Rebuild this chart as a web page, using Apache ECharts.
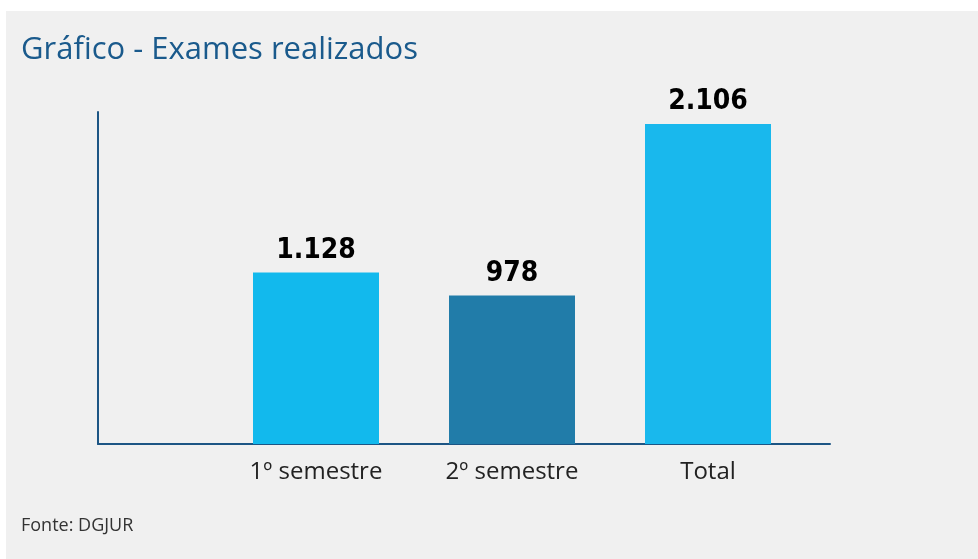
<!DOCTYPE html>
<html>
<head>
<meta charset="utf-8">
<script src="https://cdn.jsdelivr.net/npm/echarts@6/dist/echarts.min.js"></script>
<style>
  html, body { margin: 0; padding: 0; background: #ffffff; }
  #chart { position: absolute; left: 6px; top: 11px; width: 972px; height: 548px; }
</style>
</head>
<body>
<div id="chart"></div>
<script>
const categories = ['1º semestre', '2º semestre', 'Total']
const values = [1128, 978, 2106]
const barColors = ['#12b9ed', '#217ca9', '#19b8ed']

const chart = echarts.init(document.getElementById('chart'))
const axisColor = '#1c5584'

// numbers in pt-PT style: 2.106
const fmt = (v) => String(v).replace(/\B(?=(\d{3})+(?!\d))/g, '.')

const options = {
  backgroundColor: '#f0f0f0',
  title: [{
    text: 'Gráfico - Exames realizados',
    left: 10,
    top: 19,
    textStyle: {
      color: '#1a5a8c',
      fontSize: 31,
      fontWeight: 'normal',
      fontFamily: 'Open Sans'
    }
  }, {
    text: 'Fonte: DGJUR',
    left: 10,
    top: 501,
    textStyle: {
      color: '#333333',
      fontSize: 18,
      fontWeight: 'normal',
      fontFamily: 'Open Sans'
    }
  }],
  grid: [{
    // bars
    left: 212,
    right: 172,
    top: 101,
    bottom: 115
  }, {
    // frame lines
    left: 92,
    right: 148,
    top: 101,
    bottom: 115
  }],
  xAxis: [{
    type: 'category',
    gridIndex: 0,
    data: categories,
    axisLine: { show: false },
    axisTick: { show: false },
    axisLabel: {
      color: '#222222',
      fontSize: 24,
      fontFamily: 'Open Sans',
      margin: 16
    }
  }, {
    type: 'value',
    gridIndex: 1,
    min: 0,
    max: 1,
    axisLine: { show: true, lineStyle: { color: axisColor, width: 2 } },
    axisTick: { show: false },
    axisLabel: { show: false },
    splitLine: { show: false }
  }],
  yAxis: [{
    type: 'value',
    gridIndex: 0,
    min: 0,
    max: 2185,
    show: false
  }, {
    type: 'value',
    gridIndex: 1,
    min: 0,
    max: 1,
    axisLine: { show: true, lineStyle: { color: axisColor, width: 2 } },
    axisTick: { show: false },
    axisLabel: { show: false },
    splitLine: { show: false }
  }],
  series: [{
    name: 'Exames',
    type: 'bar',
    xAxisIndex: 0,
    yAxisIndex: 0,
    barWidth: 126,
    z: 1,
    itemStyle: {
      color: (p) => barColors[p.dataIndex]
    },
    label: {
      show: true,
      position: 'top',
      distance: 8,
      formatter: (p) => fmt(p.value),
      color: '#000000',
      fontSize: 28,
      fontWeight: 'bold',
      fontFamily: '"DejaVu Sans Condensed", "DejaVu Sans", sans-serif'
    },
    data: values
  }]
}
chart.setOption(options)
</script>
</body>
</html>
